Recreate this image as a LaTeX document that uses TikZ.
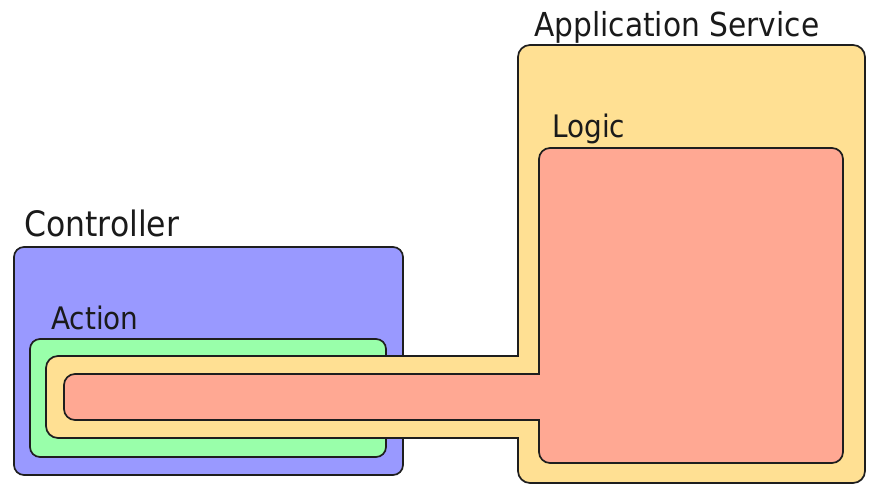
\documentclass[tikz,border=0pt]{standalone}
\usepackage{fontspec}
\setmainfont{DejaVu Sans}[FakeStretch=0.9]
\definecolor{ctrlblue}{RGB}{153,153,255}
\definecolor{actgreen}{RGB}{153,255,170}
\definecolor{svcyellow}{RGB}{255,224,147}
\definecolor{logicred}{RGB}{255,168,147}
\definecolor{edge}{RGB}{30,30,30}
\definecolor{ink}{RGB}{26,26,26}
\tikzset{
  outline/.style={draw=edge, line width=1.7pt, line join=miter},
  lbl/.style={anchor=base west, inner sep=0pt, text=ink}
}
\begin{document}
\begin{tikzpicture}[x=1pt,y=-1pt]
\useasboundingbox (0,0) rectangle (880,497);
% Controller
\path[outline, fill=ctrlblue, rounded corners=10] (14,247) rectangle (403,475);
% Action
\path[outline, fill=actgreen, rounded corners=10] (30,339) rectangle (386,457);
% Application Service (yellow)
\path[outline, fill=svcyellow] (518,356) -- (518,57) arc[start angle=180, end angle=270, radius=12]
  -- (853,45) arc[start angle=270, end angle=360, radius=12]
  -- (865,471) arc[start angle=0, end angle=90, radius=12]
  -- (530,483) arc[start angle=90, end angle=180, radius=12]
  -- (518,438) -- (58,438) arc[start angle=90, end angle=180, radius=12]
  -- (46,368) arc[start angle=180, end angle=270, radius=12]
  -- cycle;
% Logic (red)
\path[outline, fill=logicred] (539,374) -- (539,159) arc[start angle=180, end angle=270, radius=11]
  -- (832,148) arc[start angle=270, end angle=360, radius=11]
  -- (843,452) arc[start angle=0, end angle=90, radius=11]
  -- (550,463) arc[start angle=90, end angle=180, radius=11]
  -- (539,420) -- (75,420) arc[start angle=90, end angle=180, radius=11]
  -- (64,385) arc[start angle=180, end angle=270, radius=11]
  -- cycle;
% Labels
\node[lbl, font=\fontsize{33}{36}\selectfont] (svc) at (534,37) {Application Service};
\node[lbl, font=\fontsize{35}{38}\selectfont] (ctrl) at (24,236) {Controller};
\node[lbl, font=\fontsize{31}{34}\selectfont] (act) at (51,329) {Action};
\node[lbl, font=\fontsize{31}{34}\selectfont] (logic) at (552,138) {Logic};
\end{tikzpicture}
\end{document}
